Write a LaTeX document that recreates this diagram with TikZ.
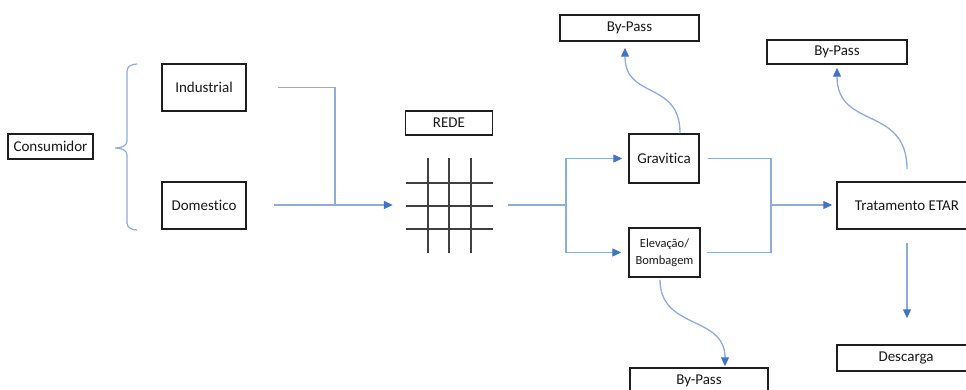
\documentclass[tikz,border=0pt]{standalone}
\usepackage{fontspec}
\setmainfont{Carlito}[Ligatures=CommonOff]
\usetikzlibrary{arrows.meta,calc}
\definecolor{flowline}{RGB}{140,172,221}
\definecolor{flowtip}{RGB}{68,114,196}
\definecolor{boxline}{RGB}{30,30,30}
\definecolor{gridline}{RGB}{64,64,64}
\definecolor{txt}{RGB}{25,25,25}
\tikzset{
  box/.style={draw=boxline, line width=1.5pt, fill=white, inner sep=0pt,
    text=txt, font=\fontsize{15}{17}\selectfont, align=center},
  flow/.style={draw=flowline, line width=1.3pt},
  flowarrow/.style={flow, -{Triangle[length=9pt,width=8pt,color=flowtip]}},
  gridbar/.style={draw=gridline, line width=1.3pt},
}
\begin{document}
\begin{tikzpicture}[x=1pt,y=-1pt]
\useasboundingbox (0,0) rectangle (966,390);
\clip (0,0) rectangle (966,390);

% boxes
\node[box, minimum width=85pt, minimum height=25pt] (cons) at (50.5,146.5) {Consumidor};
\node[box, minimum width=84pt, minimum height=47pt] (ind) at (204,87.5) {Industrial};
\node[box, minimum width=84pt, minimum height=47pt] (dom) at (204,205.5) {Domestico};
\node[box, minimum width=87pt, minimum height=24pt] (rede) at (449,123) {REDE};
\node[box, minimum width=70pt, minimum height=49pt] (grav) at (664,158.5) {Gravitica};
\node[box, minimum width=71pt, minimum height=49pt, font=\fontsize{12.5}{17}\selectfont] (elev) at (664.5,252.5) {Elevação/\\Bombagem};
\node[box, minimum width=139pt, minimum height=26pt] (bpa) at (629.5,28) {By-Pass};
\node[box, minimum width=140pt, minimum height=24pt] (bpb) at (837,52) {By-Pass};
\node[box, minimum width=140pt, minimum height=47pt] (etar) at (907,205.5) {Tratamento ETAR};
\node[box, minimum width=138pt, minimum height=26pt] (desc) at (906,358) {Descarga};
\node[box, minimum width=138pt, minimum height=26pt] (bpc) at (699,381) {By-Pass};

% network grid
\node[minimum width=87pt, minimum height=95pt, inner sep=0pt] (grid) at (449.5,205.5) {};
\foreach \gx in {428,449,471} \draw[gridbar] (\gx,158) -- (\gx,253);
\foreach \gy in {183,206,229} \draw[gridbar] (406,\gy) -- (493,\gy);

% brace grouping the consumer types
\draw[flow, line width=1.2pt] (137,64) to[out=180,in=90] (127,71) -- (127,141)
  to[out=-90,in=0] (115,148) to[out=0,in=90] (127,155) -- (127,223)
  to[out=-90,in=180] (137,230);

% junctions
\coordinate (jin) at (335,205);
\coordinate (split) at (566,205);
\coordinate (jout) at (771,205);

% consumers into the network
\draw[flow, shorten <=31pt] (ind.east) -| (jin);
\draw[flowarrow, shorten <=27pt, shorten >=13pt] (dom.east |- jin) -- (grid.west |- jin);

% network to gravity / pumping
\draw[flow, shorten <=15pt] (grid.east |- split) -- (split);
\draw[flowarrow, shorten >=6pt] (split) |- (grav.west);
\draw[flowarrow, shorten >=7pt] (split) |- (elev.west);

% into treatment
\draw[flow, shorten <=8pt] (grav.east) -| (jout);
\draw[flow, shorten <=6pt] (elev.east) -| (jout);
\draw[flowarrow, shorten >=4pt] (jout) -- (etar.west |- jout);

% by-pass branches
\draw[flowarrow] ([xshift=16pt]grav.north) .. controls (680,80) and (625,100) .. ([xshift=-4.5pt,yshift=-6pt]bpa.south);
\draw[flowarrow] ([yshift=12pt]etar.north) .. controls (907,105) and (837,130) .. ([yshift=-3pt]bpb.south);
\draw[flowarrow] ([xshift=-4.5pt,yshift=-2pt]elev.south) .. controls (660,330) and (725,315) .. ([xshift=26pt,yshift=1pt]bpc.north);

% discharge
\draw[flowarrow, shorten <=13pt, shorten >=26pt] (etar.south) -- (etar.south |- desc.north);
\end{tikzpicture}
\end{document}
